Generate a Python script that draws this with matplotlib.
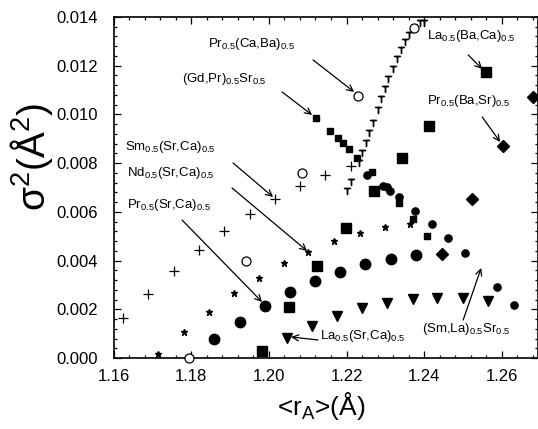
import matplotlib
matplotlib.use("Agg")
import matplotlib.pyplot as plt
from matplotlib.ticker import AutoMinorLocator, MultipleLocator

plt.rcParams['font.family'] = ['Liberation Sans', 'DejaVu Sans']
plt.rcParams['mathtext.fontset'] = 'custom'
plt.rcParams['mathtext.rm'] = 'Liberation Sans'
plt.rcParams['mathtext.it'] = 'Liberation Sans'

# ---- data ----
plus_x = [1.1625, 1.1690, 1.1756, 1.1821, 1.1885, 1.1952, 1.2016, 1.2080, 1.2145, 1.2211]
plus_y = [0.00163, 0.00261, 0.00357, 0.00443, 0.00523, 0.00592, 0.00653, 0.00707, 0.00752, 0.00788]

tee_x = [1.2201, 1.2211, 1.2231, 1.2239, 1.2250, 1.2259, 1.2269, 1.2280, 1.2289, 1.2299,
         1.2308, 1.2319, 1.2330, 1.2340, 1.2351, 1.2362, 1.2374, 1.2390, 1.2400]
tee_y = [0.00687, 0.00724, 0.00799, 0.00840, 0.00881, 0.00925, 0.00966, 0.01018, 0.01062, 0.01103,
         0.01145, 0.01185, 0.01226, 0.01264, 0.01298, 0.01326, 0.01353, 0.01374, 0.01376]

open_x = [1.1795, 1.1940, 1.2085, 1.2229, 1.2373]
open_y = [0.00000, 0.00398, 0.00761, 0.01077, 0.01353]

star_x = [1.1715, 1.1782, 1.1845, 1.1910, 1.1975, 1.2040, 1.2102, 1.2169, 1.2235, 1.2299, 1.2364]
star_y = [0.00016, 0.00105, 0.00190, 0.00266, 0.00330, 0.00391, 0.00436, 0.00480, 0.00512, 0.00537, 0.00550]

bigc_x = [1.1860, 1.1926, 1.1990, 1.2055, 1.2119, 1.2183, 1.2248, 1.2314, 1.2378]
bigc_y = [0.00077, 0.00149, 0.00215, 0.00270, 0.00316, 0.00354, 0.00386, 0.00408, 0.00422]

smc_x = [1.2252, 1.2294, 1.2303, 1.2311, 1.2335, 1.2377, 1.2420, 1.2461, 1.2504, 1.2587, 1.2630]
smc_y = [0.00751, 0.00707, 0.00700, 0.00686, 0.00660, 0.00605, 0.00549, 0.00491, 0.00430, 0.00293, 0.00218]

sms_x = [1.2121, 1.2158, 1.2179, 1.2192, 1.2207, 1.2228, 1.2265, 1.2336, 1.2372, 1.2408]
sms_y = [0.00986, 0.00933, 0.00904, 0.00881, 0.00857, 0.00820, 0.00762, 0.00638, 0.00569, 0.00501]

bigs_x = [1.1982, 1.2053, 1.2125, 1.2198, 1.2271, 1.2342, 1.2413, 1.2559]
bigs_y = [0.00029, 0.00208, 0.00379, 0.00535, 0.00686, 0.00822, 0.00952, 0.01175]

tri_x = [1.2046, 1.2111, 1.2175, 1.2239, 1.2305, 1.2370, 1.2434, 1.2500, 1.2564]
tri_y = [0.00083, 0.00131, 0.00174, 0.00204, 0.00225, 0.00242, 0.00248, 0.00245, 0.00235]

dia_x = [1.2445, 1.2523, 1.2604, 1.2681]
dia_y = [0.00427, 0.00653, 0.00872, 0.01073]

# ---- figure ----
fig = plt.figure(figsize=(5.38, 4.29), dpi=100)
ax = fig.add_axes([0.211, 0.1655, 0.789, 0.795])

ax.plot(plus_x, plus_y, ls='none', marker='+', ms=7, mew=0.9, color='black', clip_on=False)
ax.plot(tee_x, tee_y, ls='none', marker=r'$\mathrm{T}$', ms=4.8, color='black', clip_on=False)
ax.plot(open_x, open_y, ls='none', marker='o', ms=6.5, mfc='white', mec='black', mew=0.9, clip_on=False, zorder=5)
ax.plot(star_x, star_y, ls='none', marker='*', ms=4.5, color='black', clip_on=False)
ax.plot(bigc_x, bigc_y, ls='none', marker='o', ms=7.5, color='black', clip_on=False)
ax.plot(smc_x, smc_y, ls='none', marker='o', ms=5.2, color='black', clip_on=False)
ax.plot(sms_x, sms_y, ls='none', marker='s', ms=4.8, color='black', clip_on=False)
ax.plot(bigs_x, bigs_y, ls='none', marker='s', ms=6.8, color='black', clip_on=False)
ax.plot(tri_x, tri_y, ls='none', marker='v', ms=7.5, color='black', clip_on=False)
ax.plot(dia_x, dia_y, ls='none', marker='D', ms=6.5, color='black', clip_on=False)

ax.set_xlim(1.16, 1.2693)
ax.set_ylim(0.0, 0.014)
ax.xaxis.set_major_locator(MultipleLocator(0.02))
ax.yaxis.set_major_locator(MultipleLocator(0.002))
ax.xaxis.set_minor_locator(AutoMinorLocator(5))
ax.yaxis.set_minor_locator(AutoMinorLocator(5))
ax.xaxis.set_major_formatter(plt.FuncFormatter(lambda v, p: f"{v:.2f}"))
ax.yaxis.set_major_formatter(plt.FuncFormatter(lambda v, p: f"{v:.3f}"))
ax.tick_params(which='both', direction='in', top=True, right=True, labelsize=12, width=0.9)
ax.tick_params(which='major', length=5)
ax.tick_params(axis='x', which='major', pad=8)
ax.tick_params(axis='y', which='major', pad=11)
ax.tick_params(which='minor', length=2.5)
for s in ax.spines.values():
    s.set_linewidth(1.2)

ax.set_xlabel(r'<r$_\mathrm{A}$>(Å)', fontsize=19)
ax.xaxis.set_label_coords(0.49, -0.095)
ax.set_ylabel(r'$\mathrm{\sigma}^2$(Å$^2$)', fontsize=28)
ax.yaxis.set_label_coords(-0.138, 0.59)

# ---- annotations (pixel-to-data helper only for label placement) ----
def px(xp, yp):
    return (1.16 + (xp - 113.5) / 3882.0, (358.0 - yp) / 24357.0)

arrow_kw = dict(arrowstyle='->', lw=0.9, color='black', shrinkA=0, shrinkB=0,
                mutation_scale=11)
fs = 9.5

labels = [
    (r'Pr$_{0.5}$(Ca,Ba)$_{0.5}$', (208, 44), (313, 60), (354, 92)),
    (r'(Gd,Pr)$_{0.5}$Sr$_{0.5}$', (182, 79), (282, 92), (312, 115)),
    (r'Sm$_{0.5}$(Sr,Ca)$_{0.5}$', (125, 147), (233, 163), (273, 197)),
    (r'Nd$_{0.5}$(Sr,Ca)$_{0.5}$', (127, 173), (232, 188), (307, 251)),
    (r'Pr$_{0.5}$(Sr,Ca)$_{0.5}$', (127, 205), (182, 220), (262, 302)),
    (r'La$_{0.5}$(Sr,Ca)$_{0.5}$', (320, 336), (318, 340), (291, 337)),
    (r'(Sm,La)$_{0.5}$Sr$_{0.5}$', (422, 329), (463, 320), (481, 268)),
    (r'La$_{0.5}$(Ba,Ca)$_{0.5}$', (427, 36), (468, 55), (482, 69)),
    (r'Pr$_{0.5}$(Ba,Sr)$_{0.5}$', (427, 101), (482, 117), (500, 142)),
]
for txt, tpos, a0, a1 in labels:
    ax.text(*px(*tpos), txt, fontsize=fs, ha='left', va='center')
    ax.annotate('', xy=px(*a1), xytext=px(*a0), arrowprops=arrow_kw, annotation_clip=False)

fig.savefig('out.png', dpi=100)
